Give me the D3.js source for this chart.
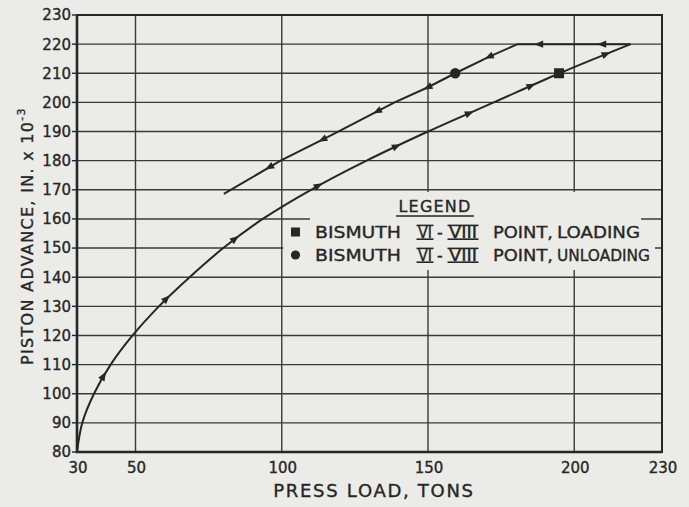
<!DOCTYPE html>
<html>
<head>
<meta charset="utf-8">
<script src="https://cdn.jsdelivr.net/npm/d3@7"></script>
<style>
    html, body { margin: 0; padding: 0; background: #ebebe7; }
    svg { display: block; font-family: "DejaVu Sans", sans-serif; }
</style>
</head>
<body>
<div id="chart-div"></div>
<script>
//---------------------------------//
// Data          //
//---------------------------------//

// loading curve (press load in tons, piston advance in 1e-3 in.)
const loadX = [30, 31.8, 35.8, 41.5, 49, 58, 68.5, 80, 93.5, 110, 129, 150, 172.5, 195, 219.3];
const loadY = [80, 90, 100, 110, 120, 130, 140, 150, 160, 170, 180, 190, 200, 210, 220];

// unloading curve, in drawing order (from max load back down)
const unloadX = [219.3, 180.6, 171, 159.3, 150, 138.6, 132.8, 119.3, 114.1, 99.6, 80.2];
const unloadY = [220, 220, 215.7, 210, 205.2, 200, 197, 190, 187.3, 180, 168.6];

// where the direction arrows sit on each curve (load value)
const loadArrowX = [39, 60.6, 83.9, 112.4, 139.1, 164.1, 185.2, 210.8];
const unloadArrowX = [209.6, 188, 171, 150, 132.8, 114.1, 95.9];

// bismuth VI-VIII transition points
const loadPoint = [194.8, 210];
const unloadPoint = [159.3, 210];

const xTickLabels = [30, 50, 100, 150, 200, 230];
const yTickLabels = [80, 90, 100, 110, 120, 130, 140, 150, 160, 170, 180, 190, 200, 210, 220, 230];
const xGrid = [50, 100, 150, 200];
const yGrid = [90, 100, 110, 120, 130, 140, 150, 160, 170, 180, 190, 200, 210, 220];

const legendTitle = 'LEGEND';
const legendSymbols = ['square', 'circle'];
const legendWords = ['LOADING', 'UNLOADING'];

//---------------------------------//
// Chart object                    //
//---------------------------------//

window.Chart = window.Chart || {};

Chart.init = function() {
    Chart.setup.initConsts();
    Chart.setup.initGraph();

    Chart.draw.grid();
    Chart.draw.frame();
    Chart.draw.curves();
    Chart.draw.points();
    Chart.draw.labels();
    Chart.draw.legend();
};

Chart.setup = {
    initConsts: function() {
        Chart.width = 689;
        Chart.height = 507;
        Chart.bg = '#ebebe7';
        Chart.ink = '#262626';
        Chart.gridInk = '#3a3a3a';
    },

    initGraph: function() {
        Chart.svg = d3.select('#chart-div')
                      .append('svg')
                        .attr('width', Chart.width)
                        .attr('height', Chart.height);

        Chart.x = d3.scaleLinear().domain([30, 230]).range([77, 662]);
        Chart.y = d3.scaleLinear().domain([80, 230]).range([452, 15]);
    }
};

Chart.helpers = {
    // hand-lettered look: fill plus a hairline stroke
    ink: function(sel) {
        return sel.attr('fill', Chart.ink)
                  .attr('stroke', Chart.ink)
                  .attr('stroke-width', 0.35);
    }
};

Chart.draw = {
    grid: function() {
        let x = Chart.x, y = Chart.y;
        let g = Chart.svg.append('g').attr('stroke', Chart.gridInk).attr('stroke-width', 1.4);

        g.selectAll('.gx').data(xGrid).enter().append('line')
            .attr('x1', d => x(d)).attr('x2', d => x(d))
            .attr('y1', y(230)).attr('y2', y(80));
        g.selectAll('.gy').data(yGrid).enter().append('line')
            .attr('x1', x(30)).attr('x2', x(230))
            .attr('y1', d => y(d)).attr('y2', d => y(d));

        // the legend sits on a blank patch of the grid
        Chart.svg.append('rect')
            .attr('x', 310).attr('y', 192).attr('width', 331).attr('height', 40)
            .attr('fill', Chart.bg);
        Chart.svg.append('rect')
            .attr('x', x(100) + 1.5).attr('y', 230).attr('width', 655 - x(100) - 1.5).attr('height', 40)
            .attr('fill', Chart.bg);
    },

    frame: function() {
        let x = Chart.x, y = Chart.y;
        Chart.svg.append('rect')
            .attr('x', x(30)).attr('y', y(230))
            .attr('width', x(230) - x(30)).attr('height', y(80) - y(230))
            .attr('fill', 'none').attr('stroke', Chart.ink).attr('stroke-width', 2);
        // heavier left and bottom axes
        Chart.svg.append('path')
            .attr('d', 'M' + x(30) + ',' + y(230) + 'V' + y(80) + 'H' + x(230))
            .attr('fill', 'none').attr('stroke', Chart.ink).attr('stroke-width', 2.6);

        Chart.svg.selectAll('.ytick').data(yTickLabels).enter().append('line')
            .attr('x1', x(30) - 5).attr('x2', x(30))
            .attr('y1', d => y(d)).attr('y2', d => y(d))
            .attr('stroke', Chart.ink).attr('stroke-width', 1.4);
    },

    curves: function() {
        let x = Chart.x, y = Chart.y;

        let loadLine = d3.line().x(d => x(d[0])).y(d => y(d[1])).curve(d3.curveCatmullRom.alpha(0.5));
        let unloadLine = d3.line().x(d => x(d[0])).y(d => y(d[1])).curve(d3.curveLinear);

        let loadPath = Chart.svg.append('path')
            .attr('d', loadLine(d3.zip(loadX, loadY)))
            .attr('fill', 'none').attr('stroke', Chart.ink).attr('stroke-width', 2);
        let unloadPath = Chart.svg.append('path')
            .attr('d', unloadLine(d3.zip(unloadX, unloadY)))
            .attr('fill', 'none').attr('stroke', Chart.ink).attr('stroke-width', 2);

        Chart.draw.arrows(loadPath.node(), loadArrowX);
        Chart.draw.arrows(unloadPath.node(), unloadArrowX);
    },

    arrows: function(node, xs) {
        // sample the path, put a small triangle where it passes each load value
        let len = node.getTotalLength();
        let pts = [];
        for (let l = 0; l <= len; l += 0.5) pts.push(node.getPointAtLength(l));

        xs.forEach(function(v) {
            let px = Chart.x(v);
            let i = d3.minIndex(pts, p => Math.abs(p.x - px));
            let a = pts[Math.max(i - 3, 0)], b = pts[Math.min(i + 3, pts.length - 1)];
            let ang = Math.atan2(b.y - a.y, b.x - a.x) * 180 / Math.PI;
            Chart.svg.append('path')
                .attr('d', 'M5,0L-4,3.6L-4,-3.6Z')
                .attr('transform', 'translate(' + pts[i].x + ',' + pts[i].y + ') rotate(' + ang + ')')
                .attr('fill', Chart.ink);
        });
    },

    points: function() {
        let x = Chart.x, y = Chart.y;
        Chart.svg.append('rect')
            .attr('x', x(loadPoint[0]) - 5).attr('y', y(loadPoint[1]) - 5)
            .attr('width', 10).attr('height', 10)
            .attr('fill', Chart.ink);
        Chart.svg.append('circle')
            .attr('cx', x(unloadPoint[0])).attr('cy', y(unloadPoint[1]))
            .attr('r', 5.2).attr('fill', Chart.ink);
    },

    labels: function() {
        let x = Chart.x, y = Chart.y;

        Chart.helpers.ink(Chart.svg.selectAll('.ylab').data(yTickLabels).enter().append('text')
            .attr('x', 71).attr('y', d => y(d)).attr('dy', '0.36em')
            .attr('text-anchor', 'end').attr('font-size', 15)
            .text(d => d));

        Chart.helpers.ink(Chart.svg.selectAll('.xlab').data(xTickLabels).enter().append('text')
            .attr('x', d => x(d) + 1).attr('y', 473)
            .attr('text-anchor', 'middle').attr('font-size', 15)
            .text(d => d));

        Chart.helpers.ink(Chart.svg.append('text')
            .attr('x', 374).attr('y', 497)
            .attr('text-anchor', 'middle').attr('font-size', 18)
            .attr('letter-spacing', 1.7)
            .text('PRESS  LOAD, TONS'));

        let yt = Chart.helpers.ink(Chart.svg.append('text')
            .attr('transform', 'translate(33,236) rotate(-90)')
            .attr('text-anchor', 'middle').attr('font-size', 16)
            .attr('letter-spacing', 1.3));
        yt.append('tspan').text('PISTON  ADVANCE, IN. x 10');
        yt.append('tspan').attr('font-size', 11).attr('dy', -8).text('-3');
    },

    legend: function() {
        Chart.helpers.ink(Chart.svg.append('text')
            .attr('x', 435).attr('y', 212)
            .attr('text-anchor', 'middle').attr('font-size', 16)
            .attr('letter-spacing', 1.2)
            .text(legendTitle));
        Chart.svg.append('line')
            .attr('x1', 396).attr('x2', 474).attr('y1', 216).attr('y2', 216)
            .attr('stroke', Chart.ink).attr('stroke-width', 1.6);

        legendWords.forEach(function(w, i) {
            let cy = 232 + i * 23;
            let base = cy + 6;
            if (legendSymbols[i] === 'square') {
                Chart.svg.append('rect')
                    .attr('x', 291).attr('y', cy - 4.5).attr('width', 9).attr('height', 9)
                    .attr('fill', Chart.ink);
            } else {
                Chart.svg.append('circle')
                    .attr('cx', 295.5).attr('cy', cy).attr('r', 4.6)
                    .attr('fill', Chart.ink);
            }

            // [text, left x, stretched width, roman numeral?]
            let parts = [
                ['BISMUTH', 315, 86, false],
                ['VI', 418, 14, true],
                ['-', 437, 0, false],
                ['VIII', 449, 28, true],
                ['POINT,', 493, 60, false],
                [w, 557, i === 0 ? 83 : 93, false]
            ];
            parts.forEach(function(p) {
                let t = Chart.helpers.ink(Chart.svg.append('text')
                    .attr('x', p[1]).attr('y', base).attr('font-size', 16)
                    .text(p[0]));
                if (p[2]) t.attr('textLength', p[2]).attr('lengthAdjust', 'spacingAndGlyphs');
                if (p[3]) {
                    [base - 12.6, base + 1.2].forEach(function(by) {
                        Chart.svg.append('line')
                            .attr('x1', p[1] - 1.5).attr('x2', p[1] + p[2] + 1.5)
                            .attr('y1', by).attr('y2', by)
                            .attr('stroke', Chart.ink).attr('stroke-width', 1.6);
                    });
                }
            });
        });
    }
};

document.addEventListener('DOMContentLoaded', Chart.init);
</script>
</body>
</html>
